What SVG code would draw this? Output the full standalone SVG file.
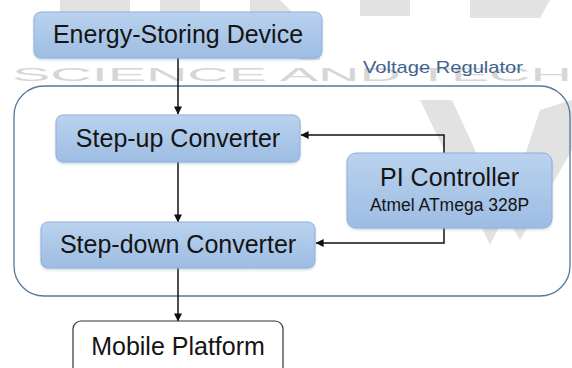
<svg xmlns="http://www.w3.org/2000/svg" width="572" height="368" viewBox="0 0 572 368">
  <style>
    .lbl { font-family: "Liberation Sans", Arial, sans-serif; font-size: 25px; fill: #141414; text-anchor: middle; }
    .sub { font-family: "Liberation Sans", Arial, sans-serif; font-size: 17.5px; fill: #141414; text-anchor: middle; }
    .blue { fill: url(#boxFill); stroke: #8eb0d7; stroke-width: 1; }
    .wire { fill: none; stroke: #111; stroke-width: 1.5; }
    .wm { fill: #e2e2e2; }
  </style>
  <defs>
    <linearGradient id="boxFill" x1="0" y1="0" x2="0" y2="1">
      <stop offset="0" stop-color="#bad2ee"/>
      <stop offset="1" stop-color="#9dbde3"/>
    </linearGradient>
    <filter id="soft" x="-5%" y="-10%" width="110%" height="130%">
      <feDropShadow dx="0" dy="1.5" stdDeviation="1.2" flood-color="#6d8fb8" flood-opacity="0.35"/>
    </filter>
    <marker id="arrow" viewBox="0 0 10 10" refX="9.5" refY="5" markerWidth="9" markerHeight="8" markerUnits="userSpaceOnUse" orient="auto">
      <path d="M0,0 L10,5 L0,10 z" fill="#111"/>
    </marker>
  </defs>

  <rect width="572" height="368" fill="#fff"/>

  <!-- faint background watermark -->
  <g id="watermark">
    <path class="wm" d="M60,0 h70 v16 h-70 z M160,0 h40 v14 h-40 z M250,0 h30 l40,40 v20 h-20 l-50,-45 z M360,0 h50 v16 h-50 z M470,0 h80 l-10,18 h-70 z"/>
    <text x="12" y="81" textLength="560" lengthAdjust="spacingAndGlyphs" style="font-family:'Liberation Sans',Arial,sans-serif;font-size:19px;fill:#d6d6d6">SCIENCE AND TECH</text>
    <path class="wm" d="M420,100 L452,100 L505,215 L490,245 Z M540,110 L572,100 L572,150 L520,240 L505,215 Z"/>
  </g>

  <!-- voltage regulator enclosure -->
  <g id="voltage-regulator">
    <rect x="14" y="86" width="556" height="210" rx="30" ry="30" fill="none" stroke="#56779c" stroke-width="1.3"/>
    <text x="363" y="73" textLength="160" lengthAdjust="spacingAndGlyphs" style="font-family:'Liberation Sans',Arial,sans-serif;font-size:17px;fill:#3e6390">Voltage Regulator</text>
  </g>

  <!-- connectors -->
  <g id="connectors">
    <path class="wire" d="M178,58 V114" marker-end="url(#arrow)"/>
    <path class="wire" d="M178,162 V222" marker-end="url(#arrow)"/>
    <path class="wire" d="M178,268 V321" marker-end="url(#arrow)"/>
    <path class="wire" d="M444,153 V135 H301" marker-end="url(#arrow)"/>
    <path class="wire" d="M444,228 V243 H316" marker-end="url(#arrow)"/>
  </g>

  <g id="energy-storing-device">
    <rect class="blue" x="34" y="12" width="288" height="46" rx="7" filter="url(#soft)"/>
    <text class="lbl" x="178" y="43">Energy-Storing Device</text>
  </g>

  <g id="step-up-converter">
    <rect class="blue" x="56" y="115" width="244" height="47" rx="7" filter="url(#soft)"/>
    <text class="lbl" x="178" y="147">Step-up Converter</text>
  </g>

  <g id="step-down-converter">
    <rect class="blue" x="41" y="222" width="274" height="46" rx="7" filter="url(#soft)"/>
    <text class="lbl" x="178" y="253">Step-down Converter</text>
  </g>

  <g id="pi-controller">
    <rect class="blue" x="347" y="153" width="205" height="75" rx="9" filter="url(#soft)"/>
    <text class="lbl" x="449.5" y="186">PI Controller</text>
    <text class="sub" x="449.5" y="211">Atmel ATmega 328P</text>
  </g>

  <g id="mobile-platform">
    <rect x="73" y="321" width="210" height="56" rx="8" fill="#fff" stroke="#333" stroke-width="1.2"/>
    <text class="lbl" x="178" y="355">Mobile Platform</text>
  </g>
</svg>
